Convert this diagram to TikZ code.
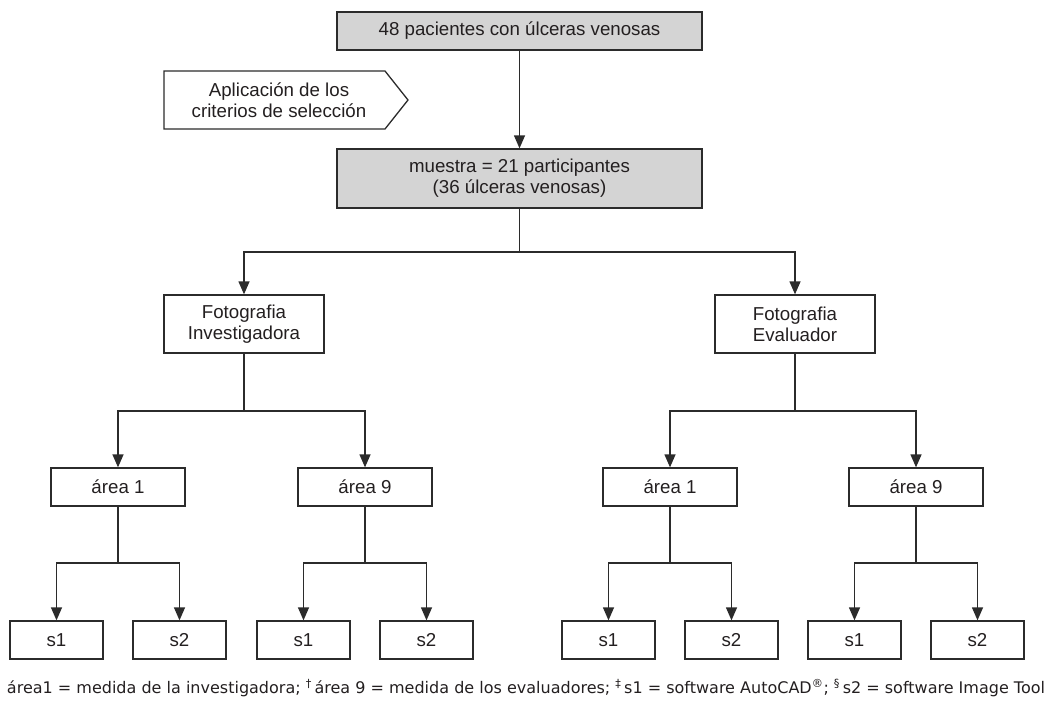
\documentclass[tikz,border=0pt]{standalone}
\usepackage{fontspec}
\setmainfont{Liberation Sans}
\newfontfamily\notafont{DejaVu Sans}
\usepackage{xcolor}
\usetikzlibrary{arrows.meta}
\definecolor{cinza}{HTML}{D4D4D4}
\definecolor{traco}{HTML}{2B2B2B}
\definecolor{texto}{HTML}{231F20}

\begin{document}
\begin{tikzpicture}[x=1pt, y=-1pt, >={Triangle[length=13pt,width=11pt]},
  caixa/.style={draw=traco, line width=1.3pt, inner sep=0pt, align=center, text=texto,
    font=\fontsize{18.7}{21}\selectfont},
  linha/.style={draw=traco, line width=1.3pt}]
  \useasboundingbox (0,0) rectangle (1056,704);
  % topo
  \node[caixa, fill=cinza, minimum width=365pt, minimum height=38pt] (pacientes) at (519.5,31) {48 pacientes con úlceras venosas};
  \node[caixa, fill=cinza, minimum width=365pt, minimum height=59pt] (muestra) at (519.5,178.5) {muestra = 21 participantes\\(36 úlceras venosas)};
  \draw[linha] (164,71) -- (385,71) -- (408,100) -- (385,129) -- (164,129) -- cycle;
  \node[caixa, draw=none] (criterios) at (279,100) {Aplicación de los\\criterios de selección};
  \draw[linha, ->] (pacientes) -- (muestra);
  % fotografias
  \node[caixa, minimum width=160pt, minimum height=58pt] (fotoI) at (244,324) {Fotografia\\Investigadora};
  \node[caixa, minimum width=160pt, minimum height=58pt] (fotoE) at (795,324) {Fotografia\\Evaluador};
  \coordinate (j0) at (519.5,252);
  \draw[linha] (muestra) -- (j0);
  \draw[linha, ->] (j0) -| (fotoI);
  \draw[linha, ->] (j0) -| (fotoE);
  % areas
  \node[caixa, minimum width=134pt, minimum height=38pt] (a1I) at (118,487) {área 1};
  \node[caixa, minimum width=134pt, minimum height=38pt] (a9I) at (365,487) {área 9};
  \node[caixa, minimum width=134pt, minimum height=38pt] (a1E) at (670,487) {área 1};
  \node[caixa, minimum width=134pt, minimum height=38pt] (a9E) at (916,487) {área 9};
  \coordinate (jI) at (244,411);
  \coordinate (jE) at (795,411);
  \draw[linha] (fotoI) -- (jI);
  \draw[linha, ->] (jI) -| (a1I);
  \draw[linha, ->] (jI) -| (a9I);
  \draw[linha] (fotoE) -- (jE);
  \draw[linha, ->] (jE) -| (a1E);
  \draw[linha, ->] (jE) -| (a9E);
  % softwares
  \foreach \a/\xa in {a1I/118, a9I/365, a1E/670, a9E/916} {
    \node[caixa, minimum width=93pt, minimum height=38pt] (\a s1) at (\xa-61.5,640) {s1};
    \node[caixa, minimum width=93pt, minimum height=38pt] (\a s2) at (\xa+61.5,640) {s2};
    \coordinate (\a j) at (\xa,563);
    \draw[linha] (\a) -- (\a j);
    \draw[linha, ->] (\a j) -| (\a s1);
    \draw[linha, ->] (\a j) -| (\a s2);
  }
  \node[text=texto, inner sep=0pt, font=\notafont\fontsize{16}{18}\selectfont] (nota) at (526,688)
    {\resizebox{1038pt}{!}{área1 = medida de la investigadora; \textsuperscript{†}\,área 9 = medida de los evaluadores; \textsuperscript{‡}\,s1 = software AutoCAD\textsuperscript{®}; \textsuperscript{§}\,s2 = software Image Tool}};
\end{tikzpicture}
\end{document}
